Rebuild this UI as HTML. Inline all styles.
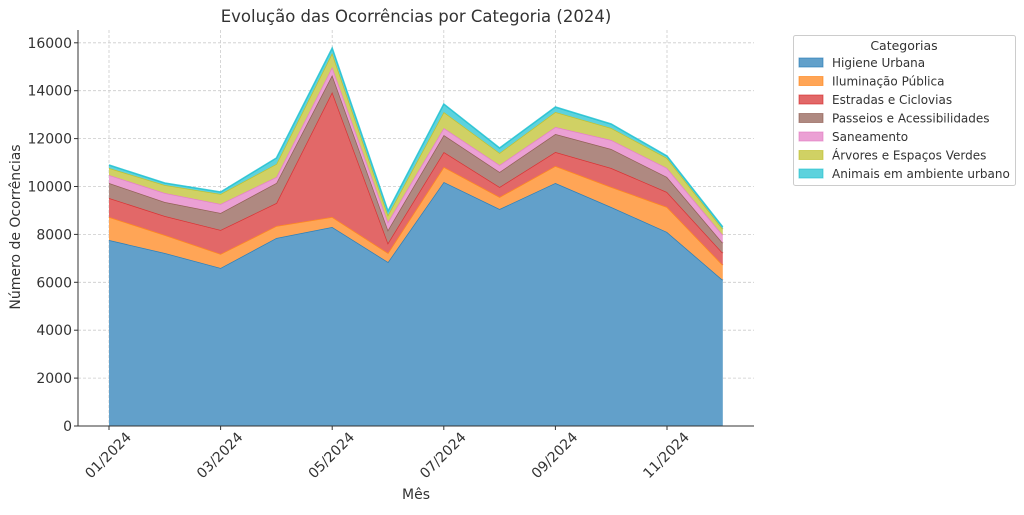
<!DOCTYPE html>
<html><head><meta charset="utf-8"><style>
body{margin:0;background:#fff;}
svg text{font-family:"DejaVu Sans","Liberation Sans",sans-serif;fill:#333;}
</style></head><body>
<svg id="s" width="1024" height="510" xmlns="http://www.w3.org/2000/svg">
<rect width="1024" height="510" fill="#fff"/>
<g id="grid" stroke="#cccccc" stroke-dasharray="3,2" stroke-width="0.8"></g>
<g id="areas"></g>
<g stroke="#333" stroke-width="1" fill="none">
<line x1="78" y1="30" x2="78" y2="426"/>
<line x1="78" y1="426" x2="754" y2="426"/>
</g>
<g id="ticks"></g>
<text x="416" y="22" font-size="16.5" text-anchor="middle">Evolução das Ocorrências por Categoria (2024)</text>
<text x="416" y="499" font-size="14" text-anchor="middle">Mês</text>
<text transform="translate(20,227) rotate(-90)" font-size="14" text-anchor="middle">Número de Ocorrências</text>
<g>
<rect x="793.5" y="35.5" width="222" height="150" fill="#fff" stroke="#ccc" rx="2"/>
<text x="904" y="50" font-size="12.5" text-anchor="middle">Categorias</text>
<g id="leg"></g>
</g>
</svg>
<script>
(function(){
var xs=[],i;for(i=0;i<12;i++)xs.push(109+55.8*i);
var L=[
[240,253,268,238,227,262,182,209,183,207,232,280],
[217,235,254,226,217,253,167,197,166,187,207,265],
[198,216,230,203,92,243,152,187,152,168,192,253],
[183,202,213,183,75,230,135,172,134,149,177,243],
[175,193,204,177,67,222,128,165,127,140,168,235],
[168,185,194,164,53,215,112,153,112,128,158,229],
[165,183,192,158,48,211,104,148,107,124,156,227]];
var fill=["#62a0ca","#ffa556","#e26868","#af8981","#eba0d4","#d0d164","#5dd2dd"];
var line=["#1f77b4","#ff7f0e","#d62728","#8c564b","#e377c2","#bcbd22","#17becf"];
var names=["Higiene Urbana","Iluminação Pública","Estradas e Ciclovias","Passeios e Acessibilidades","Saneamento","Árvores e Espaços Verdes","Animais em ambiente urbano"];
var NS="http://www.w3.org/2000/svg";
function el(t,a,p){var e=document.createElementNS(NS,t);for(var k in a)e.setAttribute(k,a[k]);p.appendChild(e);return e;}
var g=document.getElementById("grid");
for(i=0;i<=8;i++){var y=426-i*47.9;el("line",{x1:78,x2:754,y1:y,y2:y},g);}
for(i=0;i<12;i+=2)el("line",{x1:xs[i],x2:xs[i],y1:30,y2:426},g);
var A=document.getElementById("areas");
var base=xs.map(function(){return 426;});
for(var k=0;k<7;k++){
 var tp=L[k],d="M";
 for(i=0;i<12;i++)d+=xs[i].toFixed(1)+","+tp[i]+" L";
 for(i=11;i>=0;i--)d+=xs[i].toFixed(1)+","+base[i]+(i?" L":" Z");
 el("path",{d:d,fill:fill[k],stroke:"none"},A);
 var p="";for(i=0;i<12;i++)p+=xs[i].toFixed(1)+","+tp[i]+" ";
 el("polyline",{points:p,fill:"none",stroke:line[k],"stroke-width":1.5,"stroke-opacity":0.8},A);
 base=tp;
}
var T=document.getElementById("ticks");
for(i=0;i<=8;i++){var y=426-i*47.9;el("line",{x1:74,x2:78,y1:y,y2:y,stroke:"#333"},T);
 var t=el("text",{x:72,y:y+5,"font-size":"14","text-anchor":"end"},T);t.textContent=String(i*2000);}
for(i=0;i<12;i+=2){el("line",{x1:xs[i],x2:xs[i],y1:426,y2:430,stroke:"#333"},T);
 var t=el("text",{transform:"translate("+(xs[i]+23)+",438) rotate(-45)","font-size":"14","text-anchor":"end"},T);
 t.textContent=(i<9?"0":"")+(i+1)+"/2024";}
var G=document.getElementById("leg");
for(k=0;k<7;k++){var y=58+k*18.5;
 el("rect",{x:799,y:y,width:24,height:9,fill:fill[k],stroke:line[k],"stroke-opacity":0.6},G);
 var t=el("text",{x:832,y:y+9,"font-size":"12"},G);t.textContent=names[k];}
})();
</script>
</body></html>
